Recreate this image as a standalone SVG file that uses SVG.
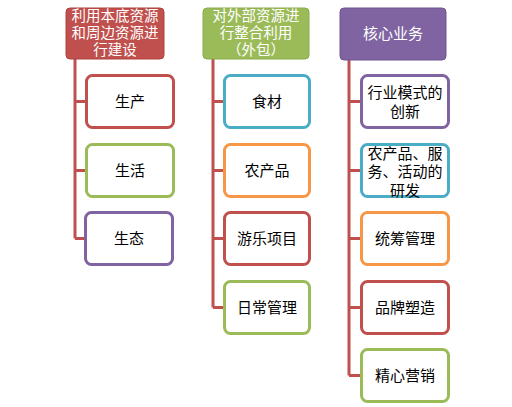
<svg xmlns="http://www.w3.org/2000/svg" width="512" height="407" viewBox="0 0 512 407">
<style>
text{font-family:"Noto Sans CJK SC","Noto Sans",sans-serif;font-size:15px;text-anchor:middle}
.h{fill:#fff}
.hs{font-size:14.5px}
.t{fill:#000}
.box{fill:#fff;stroke-width:3}
.red{stroke:#C0504D}
.grn{stroke:#9BBB59}
.pur{stroke:#8064A2}
.blu{stroke:#4BACC6}
.org{stroke:#F79646}
.conn{stroke:#C0504D;stroke-width:3;fill:none}
</style>
<rect width="512" height="407" fill="#fff"/>
<g id="connectors">
<path class="conn" d="M75 59V238.5M75 101.5H86M75 170.5H86M75 238.5H86"/>
<path class="conn" d="M213 59V307.5M213 101.5H224M213 170.5H224M213 238.5H224M213 307.5H224"/>
<path class="conn" d="M349 60V375.5M349 101.5H361M349 170.5H361M349 238.5H361M349 307.5H361M349 375.5H361"/>
</g>
<g id="h1">
<rect x="66" y="8" width="98" height="51" rx="4" fill="#C0504D" stroke="#B0403D" stroke-width="1"/>
<text class="h hs" x="115" y="20.5">利用本底资源</text>
<text class="h hs" x="115" y="37.5">和周边资源进</text>
<text class="h hs" x="115" y="54.5">行建设</text>
</g>
<g id="h2">
<rect x="203" y="8" width="106" height="51" rx="4" fill="#9BBB59" stroke="#8BAB49" stroke-width="1"/>
<text class="h hs" x="256" y="20.5">对外部资源进</text>
<text class="h hs" x="256" y="37.5">行整合利用</text>
<text class="h hs" x="256" y="54.5">（外包）</text>
</g>
<g id="h3">
<rect x="340" y="8" width="106" height="52" rx="4" fill="#8064A2" stroke="#705492" stroke-width="1"/>
<text class="h" x="393" y="39">核心业务</text>
</g>
<g id="c1a"><rect class="box red" x="86.5" y="75.5" width="87" height="52" rx="6"/><text class="t" x="130" y="107">生产</text></g>
<g id="c1b"><rect class="box grn" x="86.5" y="144.5" width="87" height="52" rx="6"/><text class="t" x="130" y="176">生活</text></g>
<g id="c1c"><rect class="box pur" x="85.5" y="212.5" width="87" height="52" rx="6"/><text class="t" x="129" y="244">生态</text></g>
<g id="c2a"><rect class="box blu" x="224.5" y="75.5" width="85" height="52" rx="6"/><text class="t" x="267" y="107">食材</text></g>
<g id="c2b"><rect class="box org" x="224.5" y="144.5" width="85" height="52" rx="6"/><text class="t" x="267" y="176">农产品</text></g>
<g id="c2c"><rect class="box red" x="224.5" y="212.5" width="85" height="52" rx="6"/><text class="t" x="267" y="244">游乐项目</text></g>
<g id="c2d"><rect class="box grn" x="224.5" y="281.5" width="85" height="52" rx="6"/><text class="t" x="267" y="313">日常管理</text></g>
<g id="c3a"><rect class="box pur" x="361.5" y="75.5" width="87" height="52" rx="6"/><text class="t" x="405" y="98">行业模式的</text><text class="t" x="405" y="117">创新</text></g>
<g id="c3b"><rect class="box blu" x="361.5" y="144.5" width="87" height="52" rx="6"/><text class="t" x="405" y="158.5">农产品、服</text><text class="t" x="405" y="177">务、活动的</text><text class="t" x="405" y="195.5">研发</text></g>
<g id="c3c"><rect class="box org" x="361.5" y="212.5" width="87" height="52" rx="6"/><text class="t" x="405" y="244">统筹管理</text></g>
<g id="c3d"><rect class="box red" x="361.5" y="281.5" width="87" height="52" rx="6"/><text class="t" x="405" y="313">品牌塑造</text></g>
<g id="c3e"><rect class="box grn" x="361.5" y="349.5" width="87" height="52" rx="6"/><text class="t" x="405" y="381">精心营销</text></g>
</svg>
